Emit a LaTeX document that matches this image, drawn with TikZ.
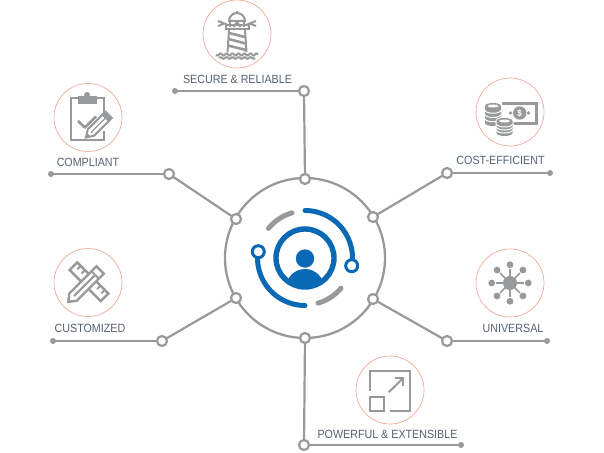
\documentclass[tikz,border=0pt]{standalone}
\usepackage{fontspec}
\setmainfont[FakeStretch=0.9]{Liberation Sans}
\usetikzlibrary{positioning,calc}
\definecolor{linkGray}{HTML}{97999B}
\definecolor{hubBlue}{HTML}{0A69B4}
\definecolor{ringRed}{HTML}{F4A999}
\definecolor{labelSlate}{HTML}{56616E}
\tikzset{
	hubRing/.style={circle, draw=linkGray, line width=2.3pt, minimum size=160pt, inner sep=0pt},
	portDot/.style={circle, draw=linkGray, fill=white, line width=2.2pt, minimum size=10pt, inner sep=0pt},
	endDot/.style={circle, fill=linkGray, minimum size=6pt, inner sep=0pt},
	iconRing/.style={circle, draw=ringRed, line width=0.7pt, minimum size=68pt, inner sep=0pt},
	labelText/.style={text=labelSlate, font=\fontsize{11.9}{13}\selectfont, inner sep=0pt},
	link/.style={draw=linkGray, line width=2.2pt},
	iconLine/.style={draw=linkGray, line width=2pt, line cap=butt, line join=miter},
	iconFill/.style={fill=linkGray, draw=none},
	blueArc/.style={draw=hubBlue, line width=5pt, line cap=round},
	grayArc/.style={draw=linkGray, line width=5pt, line cap=round},
	blueKnob/.style={circle, draw=hubBlue, fill=white, line width=3pt, minimum size=12pt, inner sep=0pt}
}
\begin{document}
\begin{tikzpicture}[x=1pt,y=1pt, line cap=round,line join=round]
	\useasboundingbox (0,0) rectangle (604,-452);

	% ---- hub
	\coordinate (C) at (305,-258);
	\node[hubRing] (Hub) at (C) {};

	% ---- ports on the hub, outer ports, end dots
	\foreach \name/\px/\py/\ox/\oy/\dx/\dy in {
		Top/305/179/304/91/175/91,
		LeftUp/236/219/169/174/51/174,
		RightUp/373/217/447/173/550/173,
		LeftDown/236/298/162/341/53/341,
		RightDown/373/299/447/341/547/341,
		Bottom/305/338/304/445/461/445}{
		\node[endDot] (D\name) at (\dx,-\dy) {};
		\node[portDot] (P\name) at (\px,-\py) {};
		\node[portDot] (O\name) at (\ox,-\oy) {};
		\draw[link] (D\name) -- (O\name);
		\draw[link] (O\name) -- (P\name);
	}

	% ---- centre figure
	\draw[blueArc] ($(C)+(90:47.5)$) arc[start angle=90,end angle=-9,radius=47.5pt];
	\draw[blueArc] ($(C)+(172:47.5)$) arc[start angle=172,end angle=270,radius=47.5pt];
	\draw[grayArc] ($(C)+(141:47)$) arc[start angle=141,end angle=106,radius=47pt];
	\draw[grayArc] ($(C)+(-74:47)$) arc[start angle=-74,end angle=-40,radius=47pt];
	\node[blueKnob] (KnobR) at (351.7,-265.7) {};
	\node[blueKnob] (KnobL) at (258.3,-251.7) {};
	\draw[hubBlue, line width=5.4pt] (C) circle (29);
	\fill[hubBlue] (305,-258.5) circle (9.2);
	\begin{scope}
		\clip (C) circle (28);
		\fill[hubBlue] (305,-288) ellipse (19 and 19);
	\end{scope}

	% ---- icon rings and labels
	\node[iconRing] (RingSecure) at (237,-34) {};
	\node[iconRing] (RingCompliant) at (88,-117.5) {};
	\node[iconRing] (RingCost) at (510,-112) {};
	\node[iconRing] (RingCustom) at (88,-282.5) {};
	\node[iconRing] (RingUniversal) at (510,-283) {};
	\node[iconRing] (RingPower) at (390,-390) {};
	\node[labelText] (LSecure) at (237.5,-79.5) {SECURE \& RELIABLE};
	\node[labelText] (LCompliant) at (88,-162) {COMPLIANT};
	\node[labelText] (LCost) at (500.5,-160.5) {COST-EFFICIENT};
	\node[labelText] (LCustom) at (90,-328) {CUSTOMIZED};
	\node[labelText] (LUniversal) at (513,-328.5) {UNIVERSAL};
	\node[labelText] (LPower) at (387.5,-434.5) {POWERFUL \& EXTENSIBLE};

	% ---- lighthouse
	\begin{scope}[shift={(RingSecure.center)}]
		\draw[iconLine] (-8,13) arc[start angle=180,end angle=0,radius=8pt] -- cycle;
		\fill[linkGray] (-1,21) rectangle (1,23);
		\draw[iconLine] (-7,13) -- (-7,7) (7,13) -- (7,7);
		\draw[iconLine] (-3.5,7) -- (0,12) -- (3.5,7);
		\draw[iconLine] (-11.5,9) rectangle (11.5,4.5);
		\draw[iconLine] (-8,4) -- (-9.5,-18) (8,4) -- (9.5,-18);
		\draw[linkGray, line width=2.6pt, line cap=butt] (-8,1) -- (8,-3) (-8.5,-5) -- (8.5,-9.5) (-9,-11.5) -- (9,-16);
		\draw[iconLine] plot[domain=-21:21,samples=50,smooth] (\x,{-20.5+1.1*sin(\x*60)});
		\draw[iconLine] plot[domain=-18:18,samples=40,smooth] (\x,{-24+0.8*sin(\x*60)});
		\draw[iconLine] (-19,13) -- (-12.5,10.5) -- (-19,8);
		\draw[iconLine] (19,13) -- (12.5,10.5) -- (19,8);
	\end{scope}

	% ---- clipboard
	\begin{scope}[shift={(RingCompliant.center)}]
		\draw[iconLine] (15.5,2) -- (15.5,20) -- (-17,20) -- (-17,-22) -- (15.5,-22) -- (15.5,-13);
		\fill[linkGray] (-10.5,14) rectangle (9,22);
		\fill[linkGray] (-1,22.5) circle (3);
		\draw[linkGray, line width=2.8pt, line cap=butt] (-10,-3.5) -- (-3,-10) -- (8,1);
		\begin{scope}[shift={(-2,-20)}, rotate=45]
			\draw[iconLine, fill=white] (0,0) -- (7,4.5) -- (28,4.5) -- (28,-4.5) -- (7,-4.5) -- cycle;
			\fill[linkGray] (0,0) -- (4,2.5) -- (4,-2.5) -- cycle;
			\fill[linkGray] (28,5.4) rectangle (33,-5.4);
			\draw[linkGray, line width=1.4pt, line cap=butt] (7,0) -- (28,0);
		\end{scope}
	\end{scope}

	% ---- coins and banknote
	\begin{scope}[shift={(RingCost.center)}]
		\draw[iconLine, line width=3pt] (-8,8.5) -- (26,8.5) -- (26,-11) -- (-8,-11);
		\fill[linkGray] (9.7,-1) circle (6.7);
		\node[text=white, font=\bfseries\fontsize{9}{9}\selectfont, inner sep=0pt] (Dollar) at (9.7,-1) {\$};
		\fill[linkGray] (0.5,-1) circle (1.8) (18.5,-1) circle (1.8);
		% stacks: centre x, top y, bottom y
		\foreach \sx/\st/\sb in {-17/6/-11, -5.5/-9/-21}{
			\draw[white, line width=2pt, fill=white] (\sx-8,\st) -- (\sx-8,\sb) arc[start angle=180,end angle=360,x radius=8pt,y radius=3pt] -- (\sx+8,\st) arc[start angle=0,end angle=180,x radius=8pt,y radius=3pt] -- cycle;
			\fill[linkGray] (\sx-8,\st) -- (\sx-8,\sb) arc[start angle=180,end angle=360,x radius=8pt,y radius=3pt] -- (\sx+8,\st) arc[start angle=0,end angle=180,x radius=8pt,y radius=3pt] -- cycle;
			\fill[white] (\sx,\st) ellipse (5.5 and 1.5);
			\foreach \f in {0.25,0.5,0.75}{
				\draw[white, line width=1pt, line cap=butt] (\sx-8,{\st+(\sb-\st)*\f}) arc[start angle=180,end angle=360,x radius=8pt,y radius=3pt];
			}
		}
	\end{scope}

	% ---- ruler and pencil
	\begin{scope}[shift={(RingCustom.center)}]
		\begin{scope}[shift={(1,0.8)}, rotate=-45]
			\draw[iconLine, line width=2.4pt] (-22,-5.4) rectangle (22,5.4);
			\foreach \t in {-17,-11,11,17}{
				\draw[iconLine] (\t,5.4) -- (\t,0.5);
			}
		\end{scope}
		\begin{scope}[shift={(-19.7,-19.3)}, rotate=45]
			\draw[iconLine, line width=2.4pt, fill=white] (0,0) -- (6.6,5.2) -- (45,5.2) -- (45,-5.2) -- (6.6,-5.2) -- cycle;
			\draw[iconLine] (8,0) -- (37,0);
			\draw[iconLine] (38,5.2) -- (38,-5.2);
		\end{scope}
	\end{scope}

	% ---- hub and spokes
	\begin{scope}[shift={(RingUniversal.center)}]
		\fill[linkGray] (0,0) circle (7);
		\foreach \a in {0,45,...,315}{
			\draw[linkGray, line width=1.6pt, line cap=butt] (0,0) -- (\a:14);
			\fill[linkGray] (\a:18.3) circle (3.4);
		}
	\end{scope}

	% ---- expand box
	\begin{scope}[shift={(RingPower.center)}]
		\draw[iconLine] (-20.5,-1.3) -- (-20.5,18.7) -- (20.3,18.7) -- (20.3,-21.3) -- (0.3,-21.3);
		\draw[iconLine] (-20.5,-7.3) rectangle (-6.3,-21.3);
		\draw[iconLine] (-1.3,-2.3) -- (13,11.7);
		\draw[iconLine] (5.3,11.7) -- (13,11.7) -- (13,3.7);
	\end{scope}
\end{tikzpicture}
\end{document}
